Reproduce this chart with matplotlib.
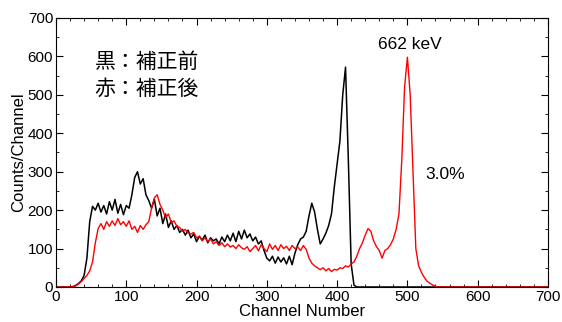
import matplotlib.pyplot as plt
from matplotlib.ticker import MultipleLocator

plt.rcParams['font.family'] = ['Liberation Sans', 'DejaVu Sans']

# channel axis (step 4)
channel = list(range(0, 704, 4))

# 黒: 補正前
before = [0, 0, 0, 0, 0, 0, 1, 4, 9, 16, 30, 75, 170, 210, 200, 218,
          195, 212, 190, 222, 200, 228, 192, 215, 188, 212, 205, 240, 285, 300, 268, 282,
          240, 225, 205, 228, 185, 205, 165, 190, 155, 172, 150, 160, 142, 150, 135, 148,
          128, 138, 118, 132, 122, 135, 115, 128, 120, 125, 112, 130, 118, 135, 120, 140,
          118, 145, 125, 148, 128, 138, 120, 130, 112, 120, 95, 75, 68, 80, 62, 78,
          65, 76, 60, 80, 58, 88, 110, 125, 130, 145, 185, 218, 195, 150, 112, 125,
          140, 160, 190, 260, 320, 380, 500, 572, 330, 60, 5, 0] + [0] * 68

# 赤: 補正後
after = [0, 0, 0, 0, 0, 0, 0, 3, 8, 14, 22, 30, 42, 65, 115, 152,
         165, 150, 170, 158, 172, 160, 178, 162, 170, 158, 172, 150, 158, 142, 160, 150,
         162, 170, 205, 232, 240, 215, 200, 180, 190, 168, 172, 158, 155, 145, 150, 140,
         138, 142, 128, 132, 120, 128, 118, 125, 112, 118, 108, 115, 105, 112, 104, 108,
         100, 110, 102, 98, 105, 92, 100, 108, 94, 110, 100, 92, 112, 98, 108, 95,
         110, 100, 106, 95, 108, 100, 104, 95, 108, 98, 75, 62, 55, 50, 45, 50,
         42, 48, 40, 46, 44, 50, 48, 55, 52, 60, 65, 80, 100, 115, 135, 152,
         145, 120, 105, 95, 75, 95, 100, 110, 125, 150, 190, 330, 520, 598, 500, 300,
         100, 55, 38, 25, 15, 10, 5, 2, 0] + [0] * 39

fig = plt.figure(figsize=(5.62, 3.22), dpi=100)
ax = fig.add_axes([0.0996, 0.1087, 0.8754, 0.8354])
ax.plot(channel, before, color='black', lw=1.1)
ax.plot(channel, after, color='red', lw=1.0)

ax.set_xlim(0, 700)
ax.set_ylim(0, 700)
ax.xaxis.set_major_locator(MultipleLocator(100))
ax.xaxis.set_minor_locator(MultipleLocator(20))
ax.yaxis.set_major_locator(MultipleLocator(100))
ax.yaxis.set_minor_locator(MultipleLocator(50))
ax.tick_params(which='both', direction='in', top=True, right=True, labelsize=11)
ax.tick_params(which='major', length=5, pad=2)
ax.tick_params(which='minor', length=2.5)
ax.set_xlabel('Channel Number', fontsize=12, labelpad=0)
ax.set_ylabel('Counts/Channel', fontsize=12, labelpad=1)

jp = ['Noto Sans CJK JP', 'DejaVu Sans']
ax.text(55, 585, '黒：補正前', family=jp, fontsize=15, va='center')
ax.text(55, 516, '赤：補正後', family=jp, fontsize=15, va='center')
ax.text(503, 632, '662 keV', fontsize=12.5, ha='center', va='center')
ax.text(525, 294, '3.0%', fontsize=12.5, va='center')

fig.savefig('out.png', dpi=100)
